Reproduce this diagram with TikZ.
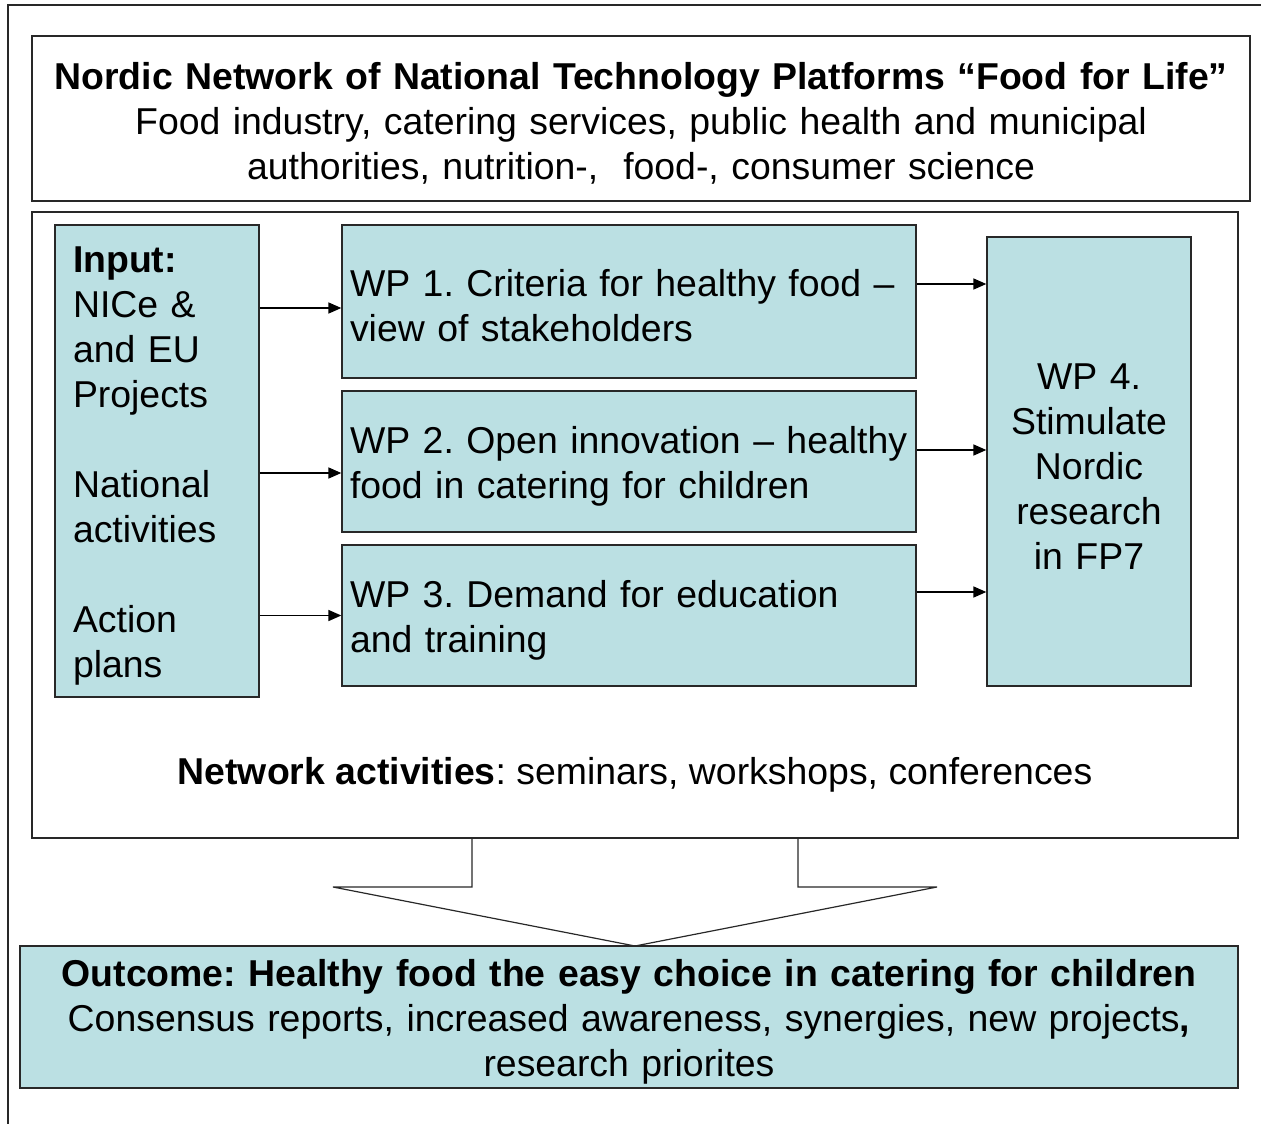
\documentclass[tikz,border=0pt]{standalone}
\usepackage{fontspec}
\setmainfont{Liberation Sans}
\usetikzlibrary{arrows.meta}
\definecolor{boxfill}{RGB}{187,224,227}
\definecolor{linec}{RGB}{40,40,40}
\begin{document}
\frenchspacing
\begin{tikzpicture}[x=1pt,y=-1pt,
  txt/.style={font=\fontsize{37.4}{45}\selectfont},
  box/.style={draw=linec, line width=1.3pt, inner ysep=0pt, txt},
  tbox/.style={box, execute at begin node={\rule{0pt}{36pt}}},
  bluebox/.style={tbox, fill=boxfill},
  arr/.style={draw=black, line width=1.6pt, -{Triangle[length=13pt,width=11pt]}},
  frame/.style={draw=linec, line width=1.3pt}]
\useasboundingbox (0,0) rectangle (1261,1124);
\draw[frame] (8,1124) -- (8,5) -- (1261,5);
% top box
\node[tbox, minimum width=1218pt, minimum height=165pt, text width=1210pt, inner xsep=4pt, align=center] (top) at (641,118.5)
 {\textbf{Nordic Network of National Technology Platforms “Food for Life”}\\
  Food industry, catering services, public health and municipal\\
  authorities, nutrition-,\ \ food-, consumer science};
% middle box
\node[box, minimum width=1206pt, minimum height=626pt] (mid) at (635,525) {};
% input box
\node[bluebox, minimum height=472pt, text width=168pt, inner xsep=18pt, align=left] (input) at (157,461)
 {\textbf{Input:}\\ NICe \&\\ and EU\\ Projects\\[45pt] National\\ activities\\[45pt] Action\\ plans};
% WP boxes
\node[bluebox, minimum height=153pt, text width=558pt, inner xsep=8pt, align=left] (wp1) at (629,301.5)
 {WP 1. Criteria for healthy food –\\ view of stakeholders};
\node[bluebox, minimum height=141pt, text width=558pt, inner xsep=8pt, align=left] (wp2) at (629,461.5)
 {\mbox{WP 2. Open innovation – healthy}\\ food in catering for children};
\node[bluebox, minimum height=141pt, text width=558pt, inner xsep=8pt, align=left] (wp3) at (629,615.5)
 {WP 3. Demand for education\\ and training};
\node[bluebox, minimum height=449pt, text width=196pt, inner xsep=4pt, align=center] (wp4) at (1089,461.5)
 {WP 4.\\ Stimulate\\ Nordic\\ research\\ in FP7};
% arrows
\draw[arr] ([yshift=-6.5pt]wp1.west -| input.east) -- ([yshift=-6.5pt]wp1.west);
\draw[arr] ([yshift=-11.5pt]wp2.west -| input.east) -- ([yshift=-11.5pt]wp2.west);
\draw[arr] (wp3.west -| input.east) -- (wp3.west);
\draw[arr] ([yshift=17.5pt]wp1.east) -- ([yshift=17.5pt]wp1.east -| wp4.west);
\draw[arr] ([yshift=11.5pt]wp2.east) -- ([yshift=11.5pt]wp2.east -| wp4.west);
\draw[arr] ([yshift=23.5pt]wp3.east) -- ([yshift=23.5pt]wp3.east -| wp4.west);
% network activities
\node[txt, inner sep=0pt] (net) at (635,775) {\textbf{Network activities}: seminars, workshops, conferences};
% outcome
\node[bluebox, minimum width=1218pt, minimum height=142pt, text width=1210pt, inner xsep=4pt, align=center] (out) at (629,1017)
 {\textbf{Outcome: Healthy food the easy choice in catering for children}\\
  Consensus reports, increased awareness, synergies, new projects\textbf{,}\\
  research priorites};
% big down arrow
\draw[frame, line width=1.2pt] (472,838) -- (472,887) -- (333,887) -- (635,946) -- (937,887) -- (798,887) -- (798,838);
\end{tikzpicture}
\end{document}
